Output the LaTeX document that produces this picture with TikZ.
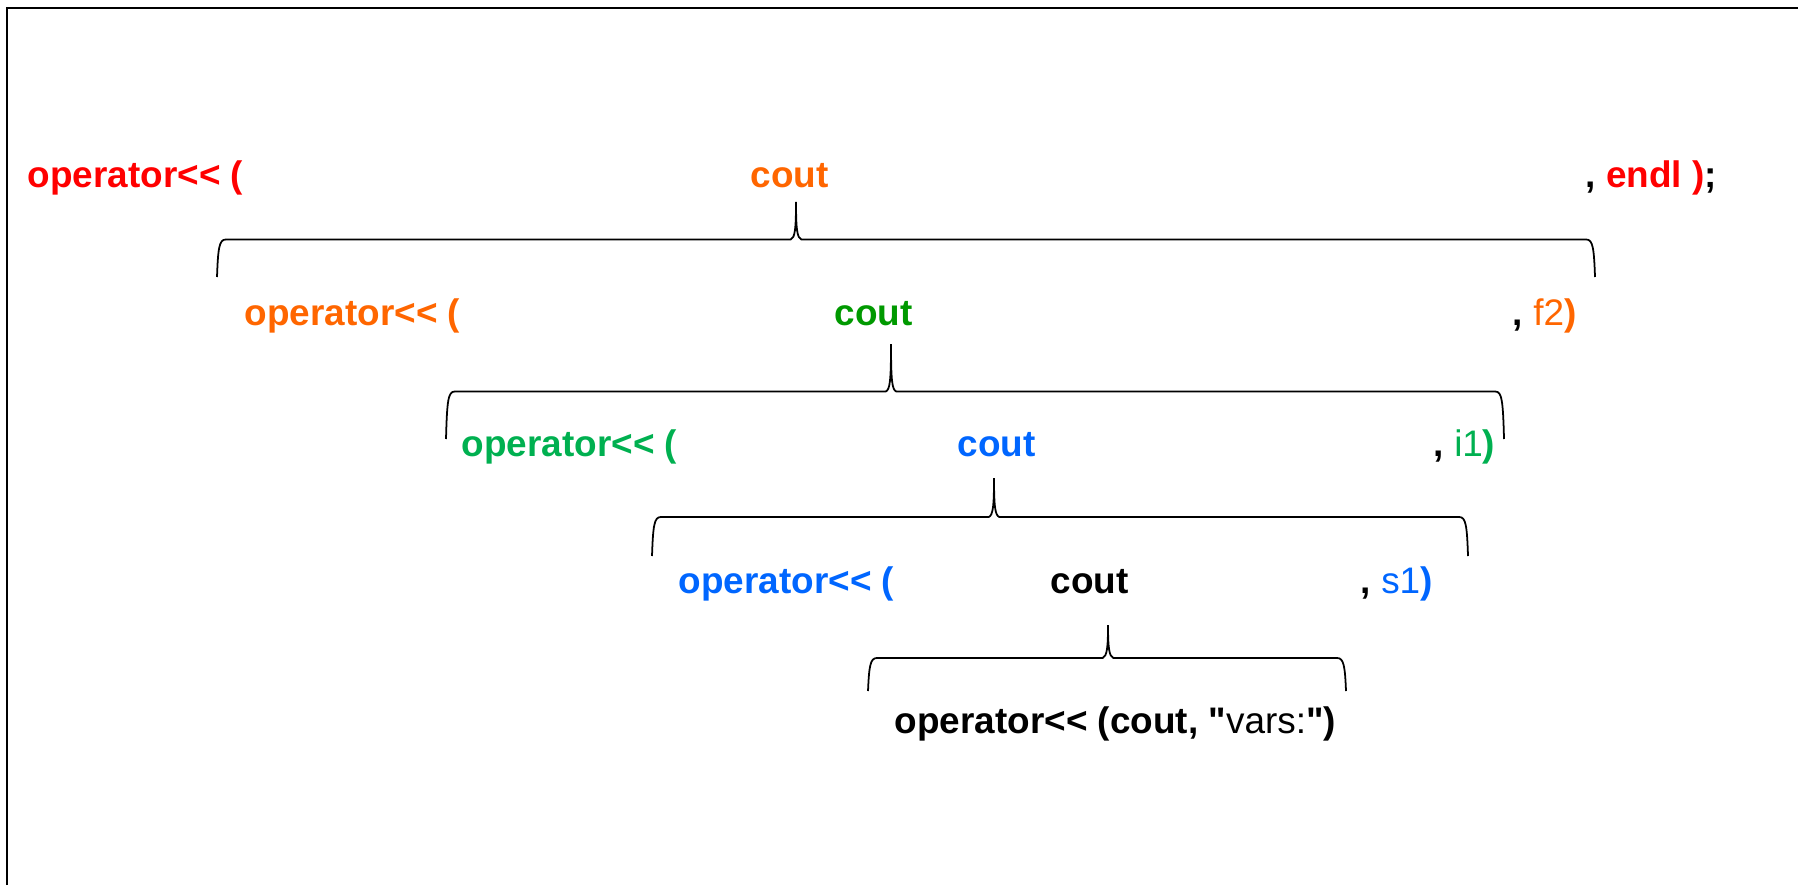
\documentclass[tikz,border=0pt]{standalone}
\usepackage{fontspec}
\setmainfont{Liberation Sans}[Ligatures=TeXOff]
\usepackage{xcolor}
\usetikzlibrary{calc}
\definecolor{callred}{HTML}{FF0000}
\definecolor{callorange}{HTML}{FF6600}
\definecolor{calldkgreen}{HTML}{009900}
\definecolor{callgreen}{HTML}{00B050}
\definecolor{callblue}{HTML}{0066FF}

% curly brace: left foot, tip, right foot
\newcommand\callbrace[3]{%
  \draw[brace line] let \p1=(#1), \p2=(#2), \p3=(#3), \p4=($(#1)!.5!(#2)$) in
    (\p1) .. controls (\x1+0.3pt,\y4-2.5pt) and (\x1+0.6pt,\y4) .. (\x1+2.5pt,\y4)
    -- (\x2-1.5pt,\y4) .. controls (\x2-0.3pt,\y4+0.5pt) and (\x2,\y4+3pt) .. (\p2)
    .. controls (\x2,\y4+3pt) and (\x2+0.3pt,\y4+0.5pt) .. (\x2+1.5pt,\y4)
    -- (\x3-2.5pt,\y4) .. controls (\x3-0.6pt,\y4) and (\x3-0.3pt,\y4-2.5pt) .. (\p3);}

\begin{document}
\begin{tikzpicture}[x=0.01cm, y=-0.01cm,
    code/.style={anchor=base west, inner sep=0pt, font=\fontsize{10.5}{12}\selectfont\bfseries},
    brace line/.style={line width=0.5pt, black},
    frame line/.style={line width=0.75pt, black}]
  \useasboundingbox (0,0) rectangle (1798,885);
  \draw[frame line] (7,885) -- (7,8) -- (1798,8);

  \node[code, text=callred] (op1) at (27,188) {operator<< (};
  \node[code, text=callorange] (cout1) at (750,188) {cout};
  \node[code, text=callred] (tail1) at (1585,188) {\textcolor{black}{,} endl )\textcolor{black}{;}};

  \node[code, text=callorange] (op2) at (244,325) {operator<< (};
  \node[code, text=calldkgreen] (cout2) at (834,325) {cout};
  \node[code, text=callorange] (tail2) at (1512,325) {\textcolor{black}{,} {\mdseries f2})};

  \node[code, text=callgreen] (op3) at (461,456) {operator<< (};
  \node[code, text=callblue] (cout3) at (957,456) {cout};
  \node[code, text=callgreen] (tail3) at (1433,456) {\textcolor{black}{,} {\mdseries i1})};

  \node[code, text=callblue] (op4) at (678,593) {operator<< (};
  \node[code, text=black] (cout4) at (1050,593) {cout};
  \node[code, text=callblue] (tail4) at (1360,593) {\textcolor{black}{,} {\mdseries s1})};

  \node[code, text=black] (op5) at (894,733) {operator<< (cout, "{\mdseries vars:}")};

  \coordinate (br1-l) at (217,277);
  \coordinate (br1-tip) at (796,202);
  \coordinate (br1-r) at (1595,277);
  \coordinate (br2-l) at (446,439);
  \coordinate (br2-tip) at (891,344);
  \coordinate (br2-r) at (1504,439);
  \coordinate (br3-l) at (652,556);
  \coordinate (br3-tip) at (994,478);
  \coordinate (br3-r) at (1468,556);
  \coordinate (br4-l) at (868,691);
  \coordinate (br4-tip) at (1108,625);
  \coordinate (br4-r) at (1346,691);
  \callbrace{br1-l}{br1-tip}{br1-r}
  \callbrace{br2-l}{br2-tip}{br2-r}
  \callbrace{br3-l}{br3-tip}{br3-r}
  \callbrace{br4-l}{br4-tip}{br4-r}
\end{tikzpicture}
\end{document}
